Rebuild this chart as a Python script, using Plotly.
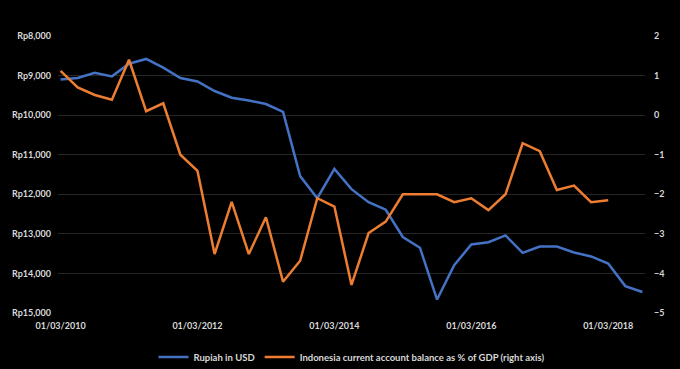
import plotly.graph_objects as go

dates = []
for y in range(2010, 2019):
    for m in (3, 6, 9, 12):
        dates.append(f"01/{m:02d}/{y}")
dates = dates[:35]

rupiah = [9100, 9060, 8930, 9020, 8700, 8580, 8800, 9060, 9150, 9390,
          9560, 9630, 9720, 9920, 11540, 12100, 11360, 11870, 12200, 12390,
          13080, 13350, 14660, 13790, 13270, 13210, 13040, 13480, 13320, 13320,
          13470, 13570, 13750, 14320, 14470]

current_account = [1.12, 0.70, 0.51, 0.39, 1.40, 0.10, 0.30, -1.0, -1.41, -3.51,
                   -2.19, -3.51, -2.58, -4.21, -3.68, -2.10, -2.31, -4.29, -2.98, -2.69,
                   -2.0, -2.0, -2.0, -2.2, -2.1, -2.4, -2.0, -0.71, -0.91, -1.89,
                   -1.78, -2.2, -2.15, None, None]

left_ticks = [8000, 9000, 10000, 11000, 12000, 13000, 14000, 15000]
left_text = [f"Rp{v:,}" for v in left_ticks]
right_ticks = [2, 1, 0, -1, -2, -3, -4, -5]
x_ticks = ["01/03/2010", "01/03/2012", "01/03/2014", "01/03/2016", "01/03/2018"]

font_color = "#d9d9d9"
fam = "Lato"

fig = go.Figure()
fig.add_trace(go.Scatter(x=dates, y=rupiah, mode="lines", name="Rupiah in USD",
                         line=dict(color="#4472C4", width=2.5), yaxis="y"))
fig.add_trace(go.Scatter(x=dates, y=current_account, mode="lines",
                         name="Indonesia current account balance as % of GDP (right axis)",
                         line=dict(color="#ED7D31", width=2.5), yaxis="y2"))

fig.update_layout(
    width=680, height=369,
    paper_bgcolor="black", plot_bgcolor="black",
    margin=dict(l=58, r=35, t=36, b=56, autoexpand=False),
    font=dict(family=fam, size=9, color=font_color),
    showlegend=True,
    legend=dict(orientation="h", x=0.5, xanchor="center",
                yref="container", y=1 - 357 / 369, yanchor="middle",
                font=dict(family=fam, size=9.5, color=font_color, weight="bold"),
                bgcolor="rgba(0,0,0,0)", itemwidth=30),
    xaxis=dict(type="category", range=[-0.15, 34.15], tickmode="array",
               tickvals=x_ticks, ticktext=x_ticks, showgrid=False, zeroline=False,
               showline=False, ticks="", ticklabelstandoff=6,
               tickfont=dict(family=fam, size=9, color=font_color, weight="bold")),
    yaxis=dict(range=[15000, 8000], tickvals=left_ticks, ticktext=left_text,
               showgrid=True, gridcolor="#262626", gridwidth=1, zeroline=False,
               showline=False, ticks="", ticklabelstandoff=6,
               tickfont=dict(family=fam, size=9, color=font_color, weight="bold")),
    yaxis2=dict(range=[-5, 2], tickvals=right_ticks, overlaying="y", side="right",
                showgrid=False, zeroline=False, showline=False, ticks="",
                ticklabelstandoff=8,
                tickfont=dict(family=fam, size=9, color=font_color, weight="bold")),
)

fig.write_html("out.html", config={"displayModeBar": False},
               post_script="document.body.style.margin='0';document.body.style.background='black';")
